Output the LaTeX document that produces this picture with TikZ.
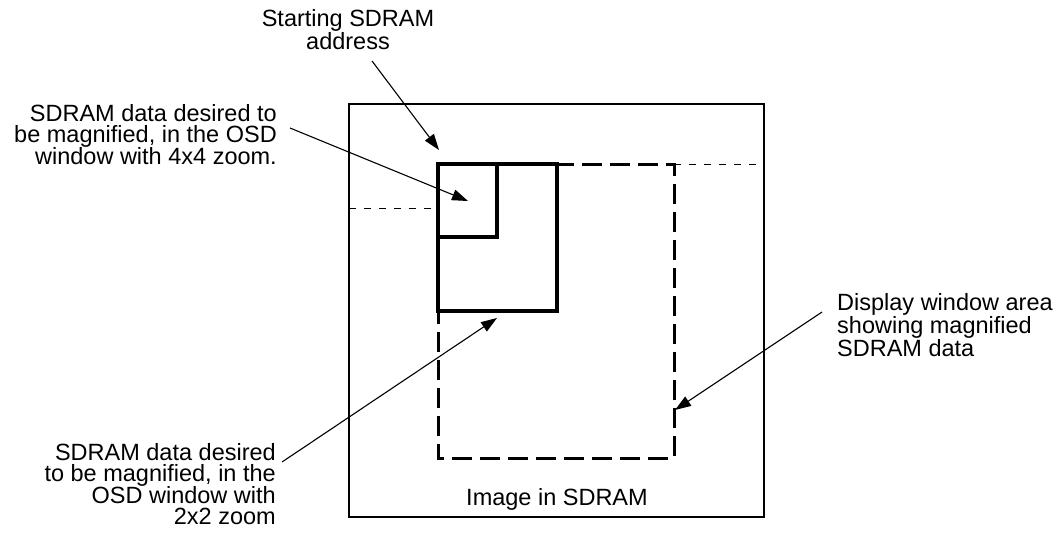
\documentclass[tikz,border=0pt]{standalone}
\usepackage{fontspec}
\setmainfont{Liberation Sans}
\usetikzlibrary{arrows.meta}

\begin{document}
\begin{tikzpicture}[
        x=1pt, y=-1pt,
        txt/.style={inner sep=0pt, font=\fontsize{23.5}{20.8}\selectfont},
        frame/.style={draw, line width=2.2pt},
        region/.style={draw, line width=3.4pt},
        window/.style={draw, line width=3pt, dash pattern=on 20pt off 8pt},
        guide/.style={draw, line width=1pt, dash pattern=on 7pt off 8pt},
        pointer/.style={-{Triangle[length=16pt,width=11pt]}, line width=1.1pt}
    ]
        \useasboundingbox (0,0) rectangle (1058,533);

        % Image in SDRAM
        \draw[frame] (349,104) rectangle (764,517);
        \node[txt, anchor=base] (image) at (557,505) {Image in SDRAM};

        % Display window
        \draw[window] (438,164) rectangle (674,458);

        % Zoomed regions
        \draw[region] (438,164) rectangle (557,311);
        \draw[region] (438,164) rectangle (497,237);

        % Guides
        \draw[guide] (674,164) -- (764,164);
        \draw[guide] (349,208) -- (438,208);

        % Labels
        \node[txt, anchor=north, align=center] (start) at (348,9) {Starting SDRAM\\address};
        \node[txt, anchor=north east, align=right] (zoom4) at (277,104) {SDRAM data desired to\\be magnified, in the OSD\\window with 4x4 zoom.};
        \node[txt, anchor=north east, align=right] (zoom2) at (276,443) {SDRAM data desired\\to be magnified, in the\\OSD window with\\2x2 zoom};
        \node[txt, anchor=north west, align=left, font=\fontsize{23.5}{18.5}\selectfont] (display) at (837,293) {Display window area\\showing magnified\\SDRAM data};

        % Pointer ends
        \coordinate (start-from) at (372,61);
        \coordinate (start-tip) at (439,150);
        \coordinate (zoom4-from) at (290,128);
        \coordinate (zoom4-tip) at (468,201);
        \coordinate (zoom2-from) at (282,462);
        \coordinate (zoom2-tip) at (497,318);
        \coordinate (display-from) at (822,312);
        \coordinate (display-tip) at (675,410);

        % Arrows
        \draw[pointer] (start-from) -- (start-tip);
        \draw[pointer] (zoom4-from) -- (zoom4-tip);
        \draw[pointer] (zoom2-from) -- (zoom2-tip);
        \draw[pointer] (display-from) -- (display-tip);
    \end{tikzpicture}
\end{document}
